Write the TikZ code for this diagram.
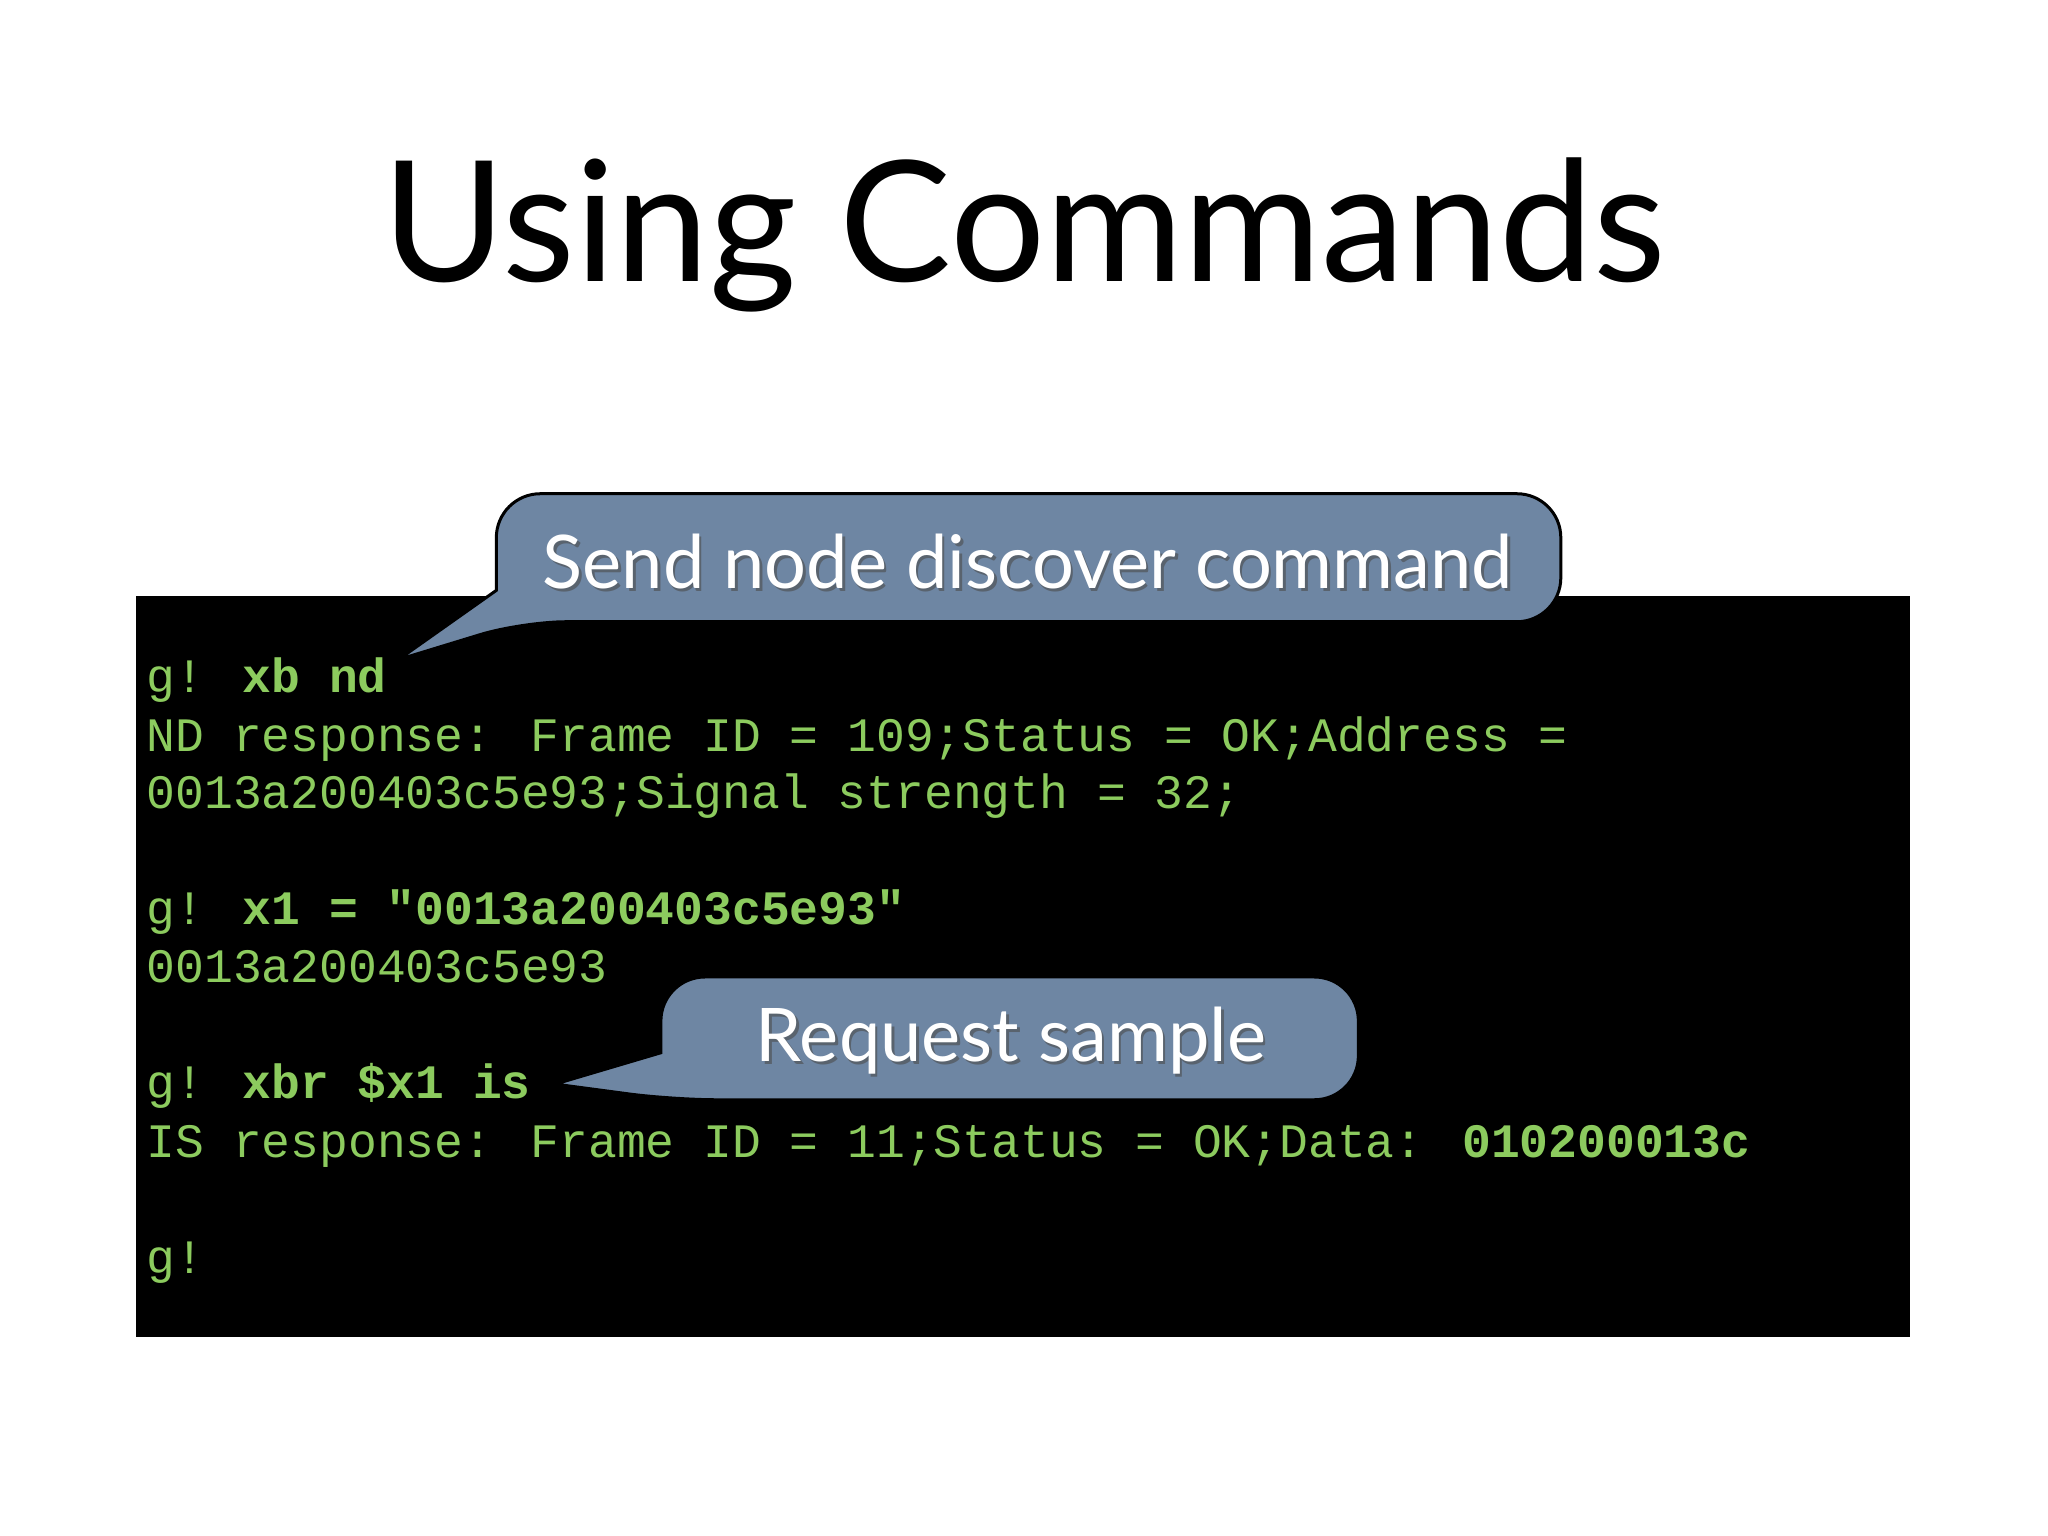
\documentclass[tikz,border=0pt]{standalone}
\usepackage{fontspec}
\setmainfont{Lato}
\newfontfamily\monof{Liberation Mono}
\definecolor{termgreen}{HTML}{8CCB5E}
\definecolor{callblue}{HTML}{6E86A3}
\begin{document}
\begin{tikzpicture}[x=0.653pt,y=-0.653pt,
  line/.style={anchor=base west,inner sep=0,font=\monof\fontsize{24}{24}\selectfont,text=termgreen},
  callout/.style={fill=callblue,draw=black,line width=1.5pt},
  ctext/.style={text=white,font=\fontsize{37}{37}\selectfont,inner sep=0}]
\useasboundingbox[fill=white] (0,0) rectangle (1568,1176);
\node[font=\fontsize{84}{84}\selectfont,inner sep=0] (title) at (784,180) {Using Commands};
\fill[black] (104,456) rectangle (1462,1024);
\node[line] (l1) at (112,530) {g! \textbf{xb nd}};
\node[line] (l2) at (112,575) {ND response: Frame ID = 109;Status = OK;Address =};
\node[line] (l3) at (112,619) {0013a200403c5e93;Signal strength = 32;};
\node[line] (l4) at (112,708) {g! \textbf{x1 = "0013a200403c5e93"}};
\node[line] (l5) at (112,752) {0013a200403c5e93};
\node[line] (l6) at (112,841) {g! \textbf{xbr \$x1 is}};
\node[line] (l7) at (112,886) {IS response: Frame ID = 11;Status = OK;Data: \textbf{010200013c}};
\node[line] (l8) at (112,975) {g!};
\draw[callout] (400,476) -- (305,505) -- (380,452) [rounded corners=22] -- (380,378) -- (1195,378) -- (1195,476) -- cycle;
\draw[callout] (515,842) -- (425,830) -- (506,806) [rounded corners=22] -- (506,748) -- (1040,748) -- (1040,842) -- cycle;
\node[ctext,text=black!70,opacity=0.6] at (789,432) {Send node discover command};
\node[ctext] (c1) at (787,430) {Send node discover command};
\node[ctext,text=black!70,opacity=0.6] at (776,799) {Request sample};
\node[ctext] (c2) at (774,797) {Request sample};
\end{tikzpicture}
\end{document}
